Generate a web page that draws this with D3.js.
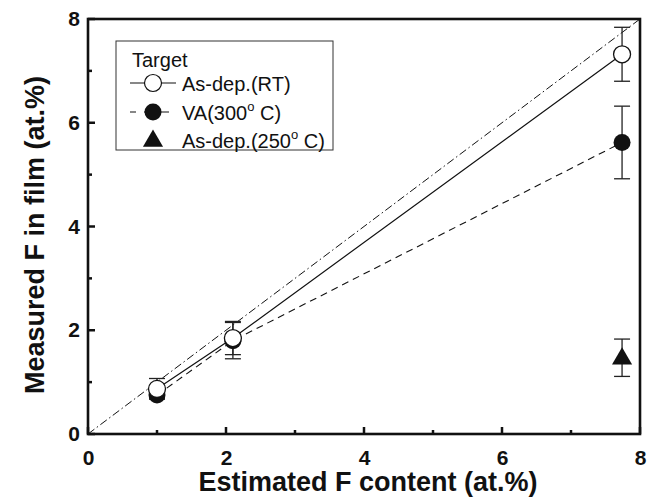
<!DOCTYPE html>
<html><head><meta charset="utf-8">
<script src="https://cdn.jsdelivr.net/npm/d3@7/dist/d3.min.js"></script>
<style>body{margin:0;background:#fff}svg{display:block}</style>
</head><body>
<script>
// Data
const xTicks = [0, 2, 4, 6, 8];
const yTicks = [0, 2, 4, 6, 8];
const minorTicks = [1, 3, 5, 7];
const estimatedF = [1.0, 2.1, 7.74];
const asDepRT = [0.87, 1.85, 7.32];
const asDepRTErr = [0.2, 0.32, 0.52];
const va300 = [0.75, 1.80, 5.62];
const va300Err = [0.06, 0.35, 0.7];
const asDep250X = [7.74];
const asDep250 = [1.47];
const asDep250Err = [0.36];
const targetLine = [[0, 0], [8, 8]];
const legendLabels = ["As-dep.(RT)", "VA(300", "As-dep.(250"];

const W = 662, H = 503;
const m = {l: 88, r: 22, t: 19, b: 69};
const FONT = "'Liberation Sans', Arial, sans-serif";
const svg = d3.select("body").append("svg").attr("width", W).attr("height", H)
  .style("font-family", FONT);
const x = d3.scaleLinear().domain([0, 8]).range([m.l, W - m.r]);
const y = d3.scaleLinear().domain([0, 8]).range([H - m.b, m.t]);

// y = x reference line (dash-dot)
svg.append("line").attr("x1", x(targetLine[0][0])).attr("y1", y(targetLine[0][1]))
  .attr("x2", x(targetLine[1][0])).attr("y2", y(targetLine[1][1]))
  .attr("stroke", "#111").attr("stroke-width", 1).attr("stroke-dasharray", "8,3,1.5,3");

const line = d3.line().x(d => x(d[0])).y(d => y(d[1]));
svg.append("path").datum(estimatedF.map((v, i) => [v, asDepRT[i]])).attr("d", line)
  .attr("fill", "none").attr("stroke", "#111").attr("stroke-width", 1.2);
svg.append("path").datum(estimatedF.map((v, i) => [v, va300[i]])).attr("d", line)
  .attr("fill", "none").attr("stroke", "#111").attr("stroke-width", 1.1).attr("stroke-dasharray", "7,5");

function errBars(xs, ys, es) {
  const g = svg.append("g").attr("stroke", "#222").attr("stroke-width", 1.3);
  xs.forEach((xv, i) => {
    const cx = x(xv), t = y(ys[i] + es[i]), b = y(ys[i] - es[i]);
    g.append("line").attr("x1", cx).attr("x2", cx).attr("y1", t).attr("y2", b);
    g.append("line").attr("x1", cx - 8).attr("x2", cx + 8).attr("y1", t).attr("y2", t);
    g.append("line").attr("x1", cx - 8).attr("x2", cx + 8).attr("y1", b).attr("y2", b);
  });
}
errBars(estimatedF, va300, va300Err);
errBars(asDep250X, asDep250, asDep250Err);
errBars(estimatedF, asDepRT, asDepRTErr);

// markers
svg.selectAll(".va").data(estimatedF).enter().append("circle")
  .attr("cx", d => x(d)).attr("cy", (d, i) => y(va300[i])).attr("r", 8.5).attr("fill", "#111");
const tri = d3.symbol().type(d3.symbolTriangle).size(175);
svg.selectAll(".tri").data(asDep250X).enter().append("path").attr("d", tri)
  .attr("transform", (d, i) => `translate(${x(d)},${y(asDep250[i]) + 1})`).attr("fill", "#111");
svg.selectAll(".rt").data(estimatedF).enter().append("circle")
  .attr("cx", d => x(d)).attr("cy", (d, i) => y(asDepRT[i])).attr("r", 8.5)
  .attr("fill", "#fff").attr("stroke", "#111").attr("stroke-width", 1.3);

// axes: labels via d3 axis, ticks drawn inward
const ax = svg.append("g").attr("transform", `translate(0,${H - m.b})`)
  .call(d3.axisBottom(x).tickValues(xTicks).tickSize(0).tickPadding(16).tickFormat(d3.format("d")));
const ay = svg.append("g").attr("transform", `translate(${m.l},0)`)
  .call(d3.axisLeft(y).tickValues(yTicks).tickSize(0).tickPadding(8).tickFormat(d3.format("d")));
[ax, ay].forEach(a => {
  a.select(".domain").remove();
  a.selectAll("text").attr("fill", "#111").style("font-size", "21px").style("font-weight", "bold")
    .style("font-family", FONT);
});
const tg = svg.append("g").attr("stroke", "#111").attr("stroke-width", 2.5);
xTicks.concat(minorTicks).forEach(v => {
  const len = minorTicks.includes(v) ? 4 : 7;
  tg.append("line").attr("x1", x(v)).attr("x2", x(v)).attr("y1", y(0)).attr("y2", y(0) - len);
});
yTicks.concat(minorTicks).forEach(v => {
  const len = minorTicks.includes(v) ? 4 : 7;
  tg.append("line").attr("y1", y(v)).attr("y2", y(v)).attr("x1", x(0)).attr("x2", x(0) + len);
});
// frame
svg.append("rect").attr("x", x(0)).attr("y", y(8)).attr("width", x(8) - x(0)).attr("height", y(0) - y(8))
  .attr("fill", "none").attr("stroke", "#111").attr("stroke-width", 2.6);

// axis titles
svg.append("text").attr("x", 368).attr("y", 491).attr("text-anchor", "middle")
  .style("font-size", "27px").style("font-weight", "bold").attr("fill", "#111").text("Estimated F content (at.%)");
svg.append("text").attr("transform", `translate(44,235) rotate(-90)`).attr("text-anchor", "middle")
  .style("font-size", "27px").style("font-weight", "bold").attr("fill", "#111").text("Measured F in film (at.%)");

// legend
const lg = svg.append("g");
lg.append("rect").attr("x", 116).attr("y", 41).attr("width", 217).attr("height", 109)
  .attr("fill", "#fff").attr("stroke", "#333").attr("stroke-width", 1);
lg.append("text").attr("x", 132).attr("y", 67).style("font-size", "20px").attr("fill", "#111").text("Target");
const ly = [83, 112, 140];
lg.append("line").attr("x1", 130).attr("x2", 176).attr("y1", ly[0]).attr("y2", ly[0]).attr("stroke", "#111").attr("stroke-width", 1.1);
lg.append("circle").attr("cx", 153).attr("cy", ly[0]).attr("r", 8.5).attr("fill", "#fff").attr("stroke", "#111").attr("stroke-width", 1.2);
lg.append("line").attr("x1", 130).attr("x2", 177).attr("y1", ly[1]).attr("y2", ly[1]).attr("stroke", "#111").attr("stroke-width", 1.1).attr("stroke-dasharray", "6,8,25,8,1.5,20");
lg.append("circle").attr("cx", 153).attr("cy", ly[1]).attr("r", 8.5).attr("fill", "#111");
lg.append("path").attr("d", tri).attr("transform", `translate(153,${ly[2] + 1})`).attr("fill", "#111");
legendLabels.forEach((t, i) => {
  const tx = lg.append("text").attr("x", 182).attr("y", ly[i] + 8).style("font-size", "20px").attr("fill", "#111");
  tx.append("tspan").text(t);
  if (i > 0) {
    tx.append("tspan").attr("dy", -9).style("font-size", "13px").text("o");
    tx.append("tspan").attr("dy", 9).text(" C)");
  }
});
</script>
</body></html>
